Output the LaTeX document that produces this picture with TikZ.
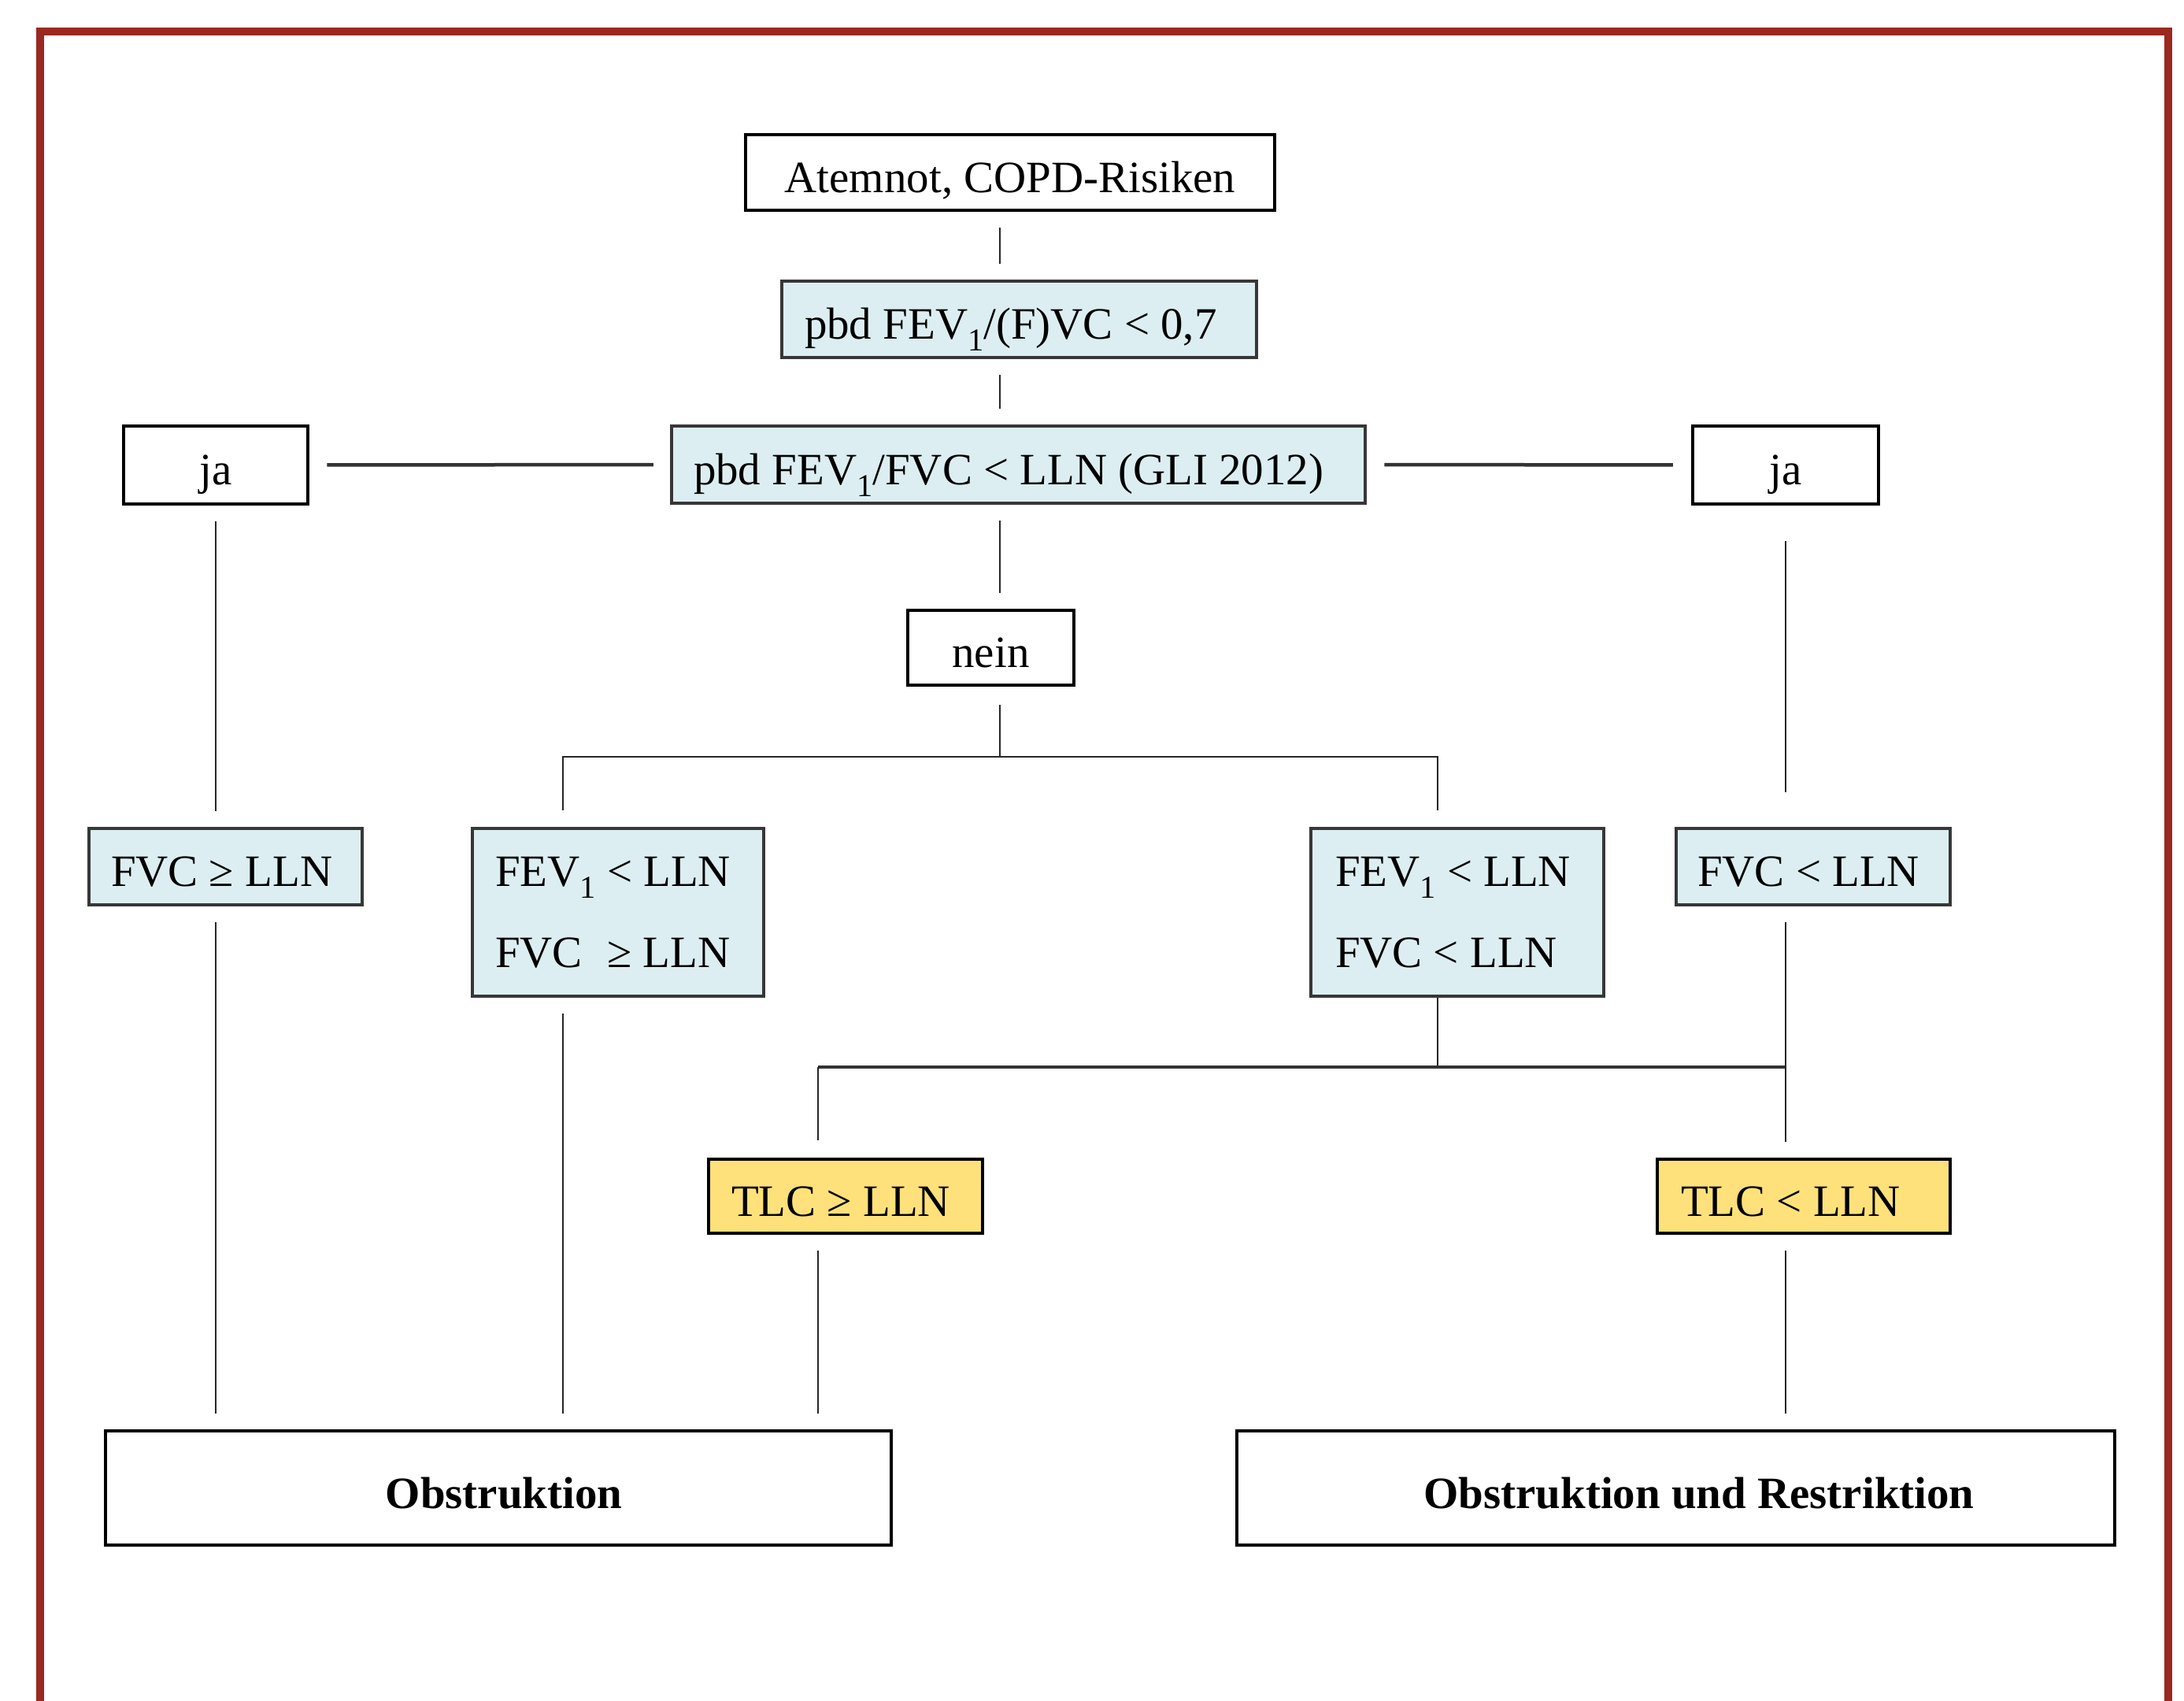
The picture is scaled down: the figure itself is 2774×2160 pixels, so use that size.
\documentclass[tikz,border=0pt]{standalone}
\usepackage{fontspec}
\setmainfont{Liberation Serif}
\definecolor{bdr}{RGB}{155,40,32}
\definecolor{lblue}{RGB}{220,238,241}
\definecolor{lyel}{RGB}{254,225,122}
\definecolor{bgray}{RGB}{55,55,55}
\newcommand\subone[1]{\raisebox{-1.5mm}{\fontsize{11.5}{11.5}\selectfont #1}}
\newcommand\mainfnt{\fontsize{16.2}{29.3}\selectfont}
\begin{document}
\begin{tikzpicture}[x=0.1mm,y=-0.1mm,
  font=\mainfnt,
  boxbase/.style={line width=0.45mm, inner ysep=0pt, anchor=center,
    execute at begin node={\spaceskip=0.25em plus 0.1em minus 0.05em\relax}},
  oneline/.style={text height=16pt, text depth=1.5pt},
  wbox/.style={boxbase, oneline, draw=black, fill=white, align=center, inner xsep=0pt},
  bbox/.style={boxbase, draw=bgray, fill=lblue, align=left},
  ybox/.style={boxbase, oneline, draw=black, fill=lyel, align=left},
  conn/.style={line width=0.25mm, draw=black!85},
  hconn/.style={line width=0.45mm, draw=black!80},
  gap/.style={shorten <=2mm, shorten >=2mm}]
\useasboundingbox (0,0) rectangle (2774,2160);
% frame
\draw[bdr, line width=1mm, line join=miter] (51,2170) -- (51,40) -- (2754,40) -- (2754,2170);
% nodes
\node[wbox, minimum width=67.2mm, minimum height=9.6mm] (atem) at (1283,219) {Atemnot, COPD-Risiken};
\node[bbox, oneline, minimum width=60.3mm, text width=54.5mm, inner xsep=2.9mm, minimum height=9.7mm] (pbd1) at (1294.5,405.5) {pbd FEV\subone{1}/(F)VC < 0,7};
\node[bbox, oneline, minimum width=88.1mm, text width=82.5mm, inner xsep=2.8mm, minimum height=9.8mm] (pbd2) at (1293.5,590) {pbd FEV\subone{1}/FVC < LLN (GLI 2012)};
\node[wbox, minimum width=23.4mm, minimum height=9.9mm] (jaL) at (274,590.5) {ja};
\node[wbox, minimum width=23.6mm, minimum height=9.9mm] (jaR) at (2268,590.5) {ja};
\node[wbox, minimum width=21.1mm, minimum height=9.5mm] (nein) at (1258.5,822.5) {nein};
\node[bbox, oneline, minimum width=34.7mm, text width=29.1mm, inner xsep=2.8mm, minimum height=9.7mm] (fvcGe) at (286.5,1100.5) {FVC ≥ LLN};
\node[bbox, minimum width=37mm, text width=31.2mm, inner xsep=2.9mm, minimum height=21.3mm] (fevL) at (785,1158.5) {FEV\subone{1} < LLN\\FVC\hspace{0.55em}≥ LLN};
\node[bbox, minimum width=37.2mm, text width=31mm, inner xsep=3.1mm, minimum height=21.3mm] (fevR) at (1851,1158.5) {FEV\subone{1} < LLN\\FVC < LLN};
\node[bbox, oneline, minimum width=34.8mm, text width=29.4mm, inner xsep=2.7mm, minimum height=9.7mm] (fvcLt) at (2303,1100.5) {FVC < LLN};
\node[ybox, minimum width=34.8mm, text width=29mm, inner xsep=2.9mm, minimum height=9.4mm] (tlcGe) at (1074,1519) {TLC ≥ LLN};
\node[ybox, minimum width=37.2mm, text width=31.2mm, inner xsep=3mm, minimum height=9.4mm] (tlcLt) at (2291,1519) {TLC < LLN};
\node[wbox, minimum width=99.8mm, minimum height=14.5mm, font=\mainfnt\bfseries] (obs) at (633,1889.5) {\hspace*{1.4mm}Obstruktion};
\node[wbox, minimum width=111.5mm, minimum height=14.5mm, font=\mainfnt\bfseries] (obsR) at (2128.5,1889.5) {\hspace*{5.9mm}Obstruktion und Restriktion};
% column coordinates
\coordinate (xL) at (274,0);
\coordinate (xM) at (715,0);
\coordinate (xT) at (1039,0);
\coordinate (xC) at (1270,0);
\coordinate (xR1) at (1826,0);
\coordinate (xR) at (2268,0);
\coordinate (j1) at (1270,961);
\coordinate (j2l) at (1039,1355);
\coordinate (j2m) at (1826,1355);
\coordinate (j2r) at (2268,1355);
% connectors
\draw[conn,gap] (atem.south -| xC) -- (pbd1.north -| xC);
\draw[conn,gap] (pbd1.south -| xC) -- (pbd2.north -| xC);
\draw[hconn, shorten <=2.1mm, shorten >=2.2mm] (pbd2.west) -- (jaL.east);
\draw[hconn, shorten <=2.2mm, shorten >=2.3mm] (pbd2.east) -- (jaR.west);
\draw[conn,gap] (pbd2.south -| xC) -- (nein.north -| xC);
\draw[conn,gap] (jaL.south) -- (fvcGe.north -| xL);
\draw[conn, shorten <=4.5mm, shorten >=4.4mm] (jaR.south) -- (fvcLt.north -| xR);
\draw[conn, shorten <=2.3mm] (nein.south -| xC) -- (j1);
\draw[conn, shorten >=2.1mm] (j1) -| (fevL.north -| xM);
\draw[conn, shorten >=2.1mm] (j1) -| (fevR.north -| xR1);
\draw[conn,gap] (fvcGe.south -| xL) -- (obs.north -| xL);
\draw[conn,gap] (fevL.south -| xM) -- (obs.north -| xM);
\draw[conn] (fevR.south -| xR1) -- (j2m);
\draw[hconn] (j2l) -- (j2r);
\draw[conn,gap] (fvcLt.south -| xR) -- (tlcLt.north -| xR);
\draw[conn, shorten >=2.2mm] (j2l) -- (tlcGe.north -| xT);
\draw[conn,gap] (tlcGe.south -| xT) -- (obs.north -| xT);
\draw[conn,gap] (tlcLt.south -| xR) -- (obsR.north -| xR);
\end{tikzpicture}
\end{document}
